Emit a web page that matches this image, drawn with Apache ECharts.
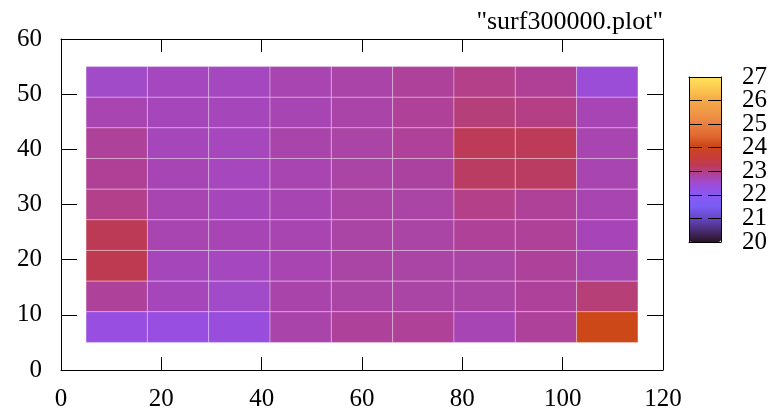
<!DOCTYPE html>
<html>
<head>
<meta charset="utf-8">
<script src="https://cdn.jsdelivr.net/npm/echarts@6/dist/echarts.min.js"></script>
<style>
html, body { margin: 0; padding: 0; background: #fff; }
#chart { width: 771px; height: 412px; }
</style>
</head>
<body>
<div id="chart"></div>
<script>
// cell edges of the surface (x: 9 columns, y: 9 rows)
const xEdges = [5, 17.22, 29.44, 41.67, 53.89, 66.11, 78.33, 90.56, 102.78, 115]
const yEdges = [5, 10.56, 16.11, 21.67, 27.22, 32.78, 38.33, 43.89, 49.44, 55]

// cell values, rows listed from the top (y = 55) down to the bottom (y = 5)
const rowsTopDown = [
    [22.55, 22.63, 22.63, 22.73, 22.78, 22.87, 22.97, 22.90, 22.43],
    [22.73, 22.66, 22.66, 22.71, 22.78, 22.88, 23.06, 23.00, 22.70],
    [22.87, 22.66, 22.64, 22.77, 22.80, 22.88, 23.24, 23.24, 22.73],
    [22.90, 22.70, 22.64, 22.73, 22.80, 22.84, 23.19, 23.19, 22.73],
    [22.96, 22.73, 22.66, 22.71, 22.80, 22.80, 22.97, 22.88, 22.73],
    [23.26, 22.73, 22.70, 22.73, 22.80, 22.80, 22.88, 22.88, 22.68],
    [23.31, 22.66, 22.63, 22.73, 22.80, 22.80, 22.80, 22.87, 22.73],
    [22.87, 22.66, 22.55, 22.77, 22.80, 22.80, 22.80, 22.87, 23.07],
    [22.35, 22.35, 22.38, 22.77, 22.87, 22.88, 22.70, 22.87, 24.10]
]

const xTicks = [0, 20, 40, 60, 80, 100, 120]
const yTicks = [0, 10, 20, 30, 40, 50, 60]
const cbTicks = [20, 21, 22, 23, 24, 25, 26, 27]

// palette anchors (value -> colour), gnuplot-like
const paletteStops = [
    [20.0, '#2a1424'], [20.5, '#4a2c74'], [21.0, '#6646c4'], [21.5, '#7a5cf6'],
    [22.0, '#8a58f0'], [22.35, '#984ee0'], [22.55, '#a24bc9'], [22.66, '#a646bb'],
    [22.80, '#aa44a5'], [22.90, '#b04095'], [23.07, '#b63f78'], [23.26, '#bd3a55'],
    [23.6, '#c83c38'], [24.1, '#cc4818'], [24.5, '#e06830'], [25.0, '#e88040'],
    [25.5, '#f09848'], [26.0, '#f4a848'], [26.5, '#fcc850'], [27.0, '#ffe45c']
]

function hexToRgb(h) {
    return [1, 3, 5].map(i => parseInt(h.substr(i, 2), 16))
}

function paletteAt(v) {
    for (let k = 0; k < paletteStops.length - 1; k++) {
        const a = paletteStops[k], b = paletteStops[k + 1]
        if (v <= b[0]) {
            const t = (v - a[0]) / (b[0] - a[0])
            const ca = hexToRgb(a[1]), cb = hexToRgb(b[1])
            const c = ca.map((x, i) => Math.round(x + (cb[i] - x) * t))
            return 'rgb(' + c.join(',') + ')'
        }
    }
    return paletteStops[paletteStops.length - 1][1]
}

const cbMin = cbTicks[0], cbMax = cbTicks[cbTicks.length - 1]
const rangeColors = []
for (let k = 0; k <= 140; k++) rangeColors.push(paletteAt(cbMin + (cbMax - cbMin) * k / 140))

const cells = []
rowsTopDown.forEach((row, r) => {
    const j = rowsTopDown.length - 1 - r
    row.forEach((v, i) => {
        cells.push([xEdges[i], xEdges[i + 1], yEdges[j], yEdges[j + 1], v])
    })
})

const font = 'Liberation Serif'
const black = '#000'
const labelStyle = { fontFamily: font, fontSize: 25, color: black }

function frameAxis(extra) {
    return Object.assign({
        type: 'value',
        z: 10,
        axisLine: { show: true, onZero: false, lineStyle: { color: black, width: 1 } },
        axisTick: { show: true, inside: true, length: 13, lineStyle: { color: black } },
        axisLabel: { show: false },
        splitLine: { show: false }
    }, extra)
}

const chart = echarts.init(document.getElementById('chart'), null, { renderer: 'canvas' })

chart.setOption({
    animation: false,
    backgroundColor: '#fff',
    title: {
        text: '"surf300000.plot"',
        right: 108,
        top: 9,
        padding: 0,
        textStyle: { fontFamily: font, fontSize: 26, fontWeight: 'normal', color: black }
    },
    grid: [
        { left: 61, right: 108, top: 39, bottom: 42, outerBoundsMode: 'none' },
        { left: 689, width: 32, top: 77, height: 165, outerBoundsMode: 'none' },
        // second box on top of the colour bar, only for the odd labels
        { left: 689, width: 32, top: 77, height: 165, outerBoundsMode: 'none' }
    ],
    xAxis: [
        frameAxis({
            gridIndex: 0, position: 'bottom', min: 0, max: 120, interval: 20,
            axisLabel: Object.assign({ show: true, margin: 17 }, labelStyle)
        }),
        frameAxis({ gridIndex: 0, position: 'top', min: 0, max: 120, interval: 20 }),
        frameAxis({ gridIndex: 1, position: 'bottom', min: 0, max: 1, axisTick: { show: false } }),
        frameAxis({ gridIndex: 1, position: 'top', min: 0, max: 1, axisTick: { show: false } }),
        frameAxis({ gridIndex: 2, min: 0, max: 1, show: false })
    ],
    yAxis: [
        frameAxis({
            gridIndex: 0, position: 'left', min: 0, max: 60, interval: 10,
            axisTick: { show: true, inside: true, length: 16, lineStyle: { color: black } },
            axisLabel: Object.assign({ show: true, margin: 19 }, labelStyle)
        }),
        frameAxis({
            gridIndex: 0, position: 'right', min: 0, max: 60, interval: 10,
            axisTick: { show: true, inside: true, length: 16, lineStyle: { color: black } }
        }),
        frameAxis({
            gridIndex: 1, position: 'right', min: cbMin, max: cbMax, interval: 1,
            axisTick: { show: true, inside: true, length: 13, lineStyle: { color: black } },
            axisLabel: Object.assign({
                show: true, margin: 21,
                customValues: cbTicks.filter(v => v % 2 === 0)
            }, labelStyle)
        }),
        frameAxis({
            gridIndex: 1, position: 'left', min: cbMin, max: cbMax, interval: 1,
            axisTick: { show: true, inside: true, length: 13, lineStyle: { color: black } }
        }),
        frameAxis({
            gridIndex: 2, position: 'right', min: cbMin, max: cbMax, interval: 1,
            axisLine: { show: false },
            axisTick: { show: false },
            axisLabel: Object.assign({
                show: true, margin: 21,
                customValues: cbTicks.filter(v => v % 2 === 1)
            }, labelStyle)
        })
    ],
    visualMap: {
        type: 'continuous',
        seriesIndex: 0,
        dimension: 4,
        min: cbMin,
        max: cbMax,
        calculable: false,
        hoverLink: false,
        left: 689,
        top: 77,
        padding: 0,
        itemWidth: 32,
        itemHeight: 165,
        z: 4,
        inRange: { color: rangeColors }
    },
    series: [{
        type: 'custom',
        xAxisIndex: 0,
        yAxisIndex: 0,
        encode: { x: [0, 1], y: [2, 3] },
        data: cells,
        renderItem: function (params, api) {
            const p0 = api.coord([api.value(0), api.value(2)])
            const p1 = api.coord([api.value(1), api.value(3)])
            return {
                type: 'rect',
                shape: { x: p0[0], y: p1[1], width: p1[0] - p0[0], height: p0[1] - p1[1] },
                style: { fill: api.visual('color'), stroke: 'rgba(255,255,255,0.3)', lineWidth: 1 }
            }
        }
    }]
})
</script>
</body>
</html>
